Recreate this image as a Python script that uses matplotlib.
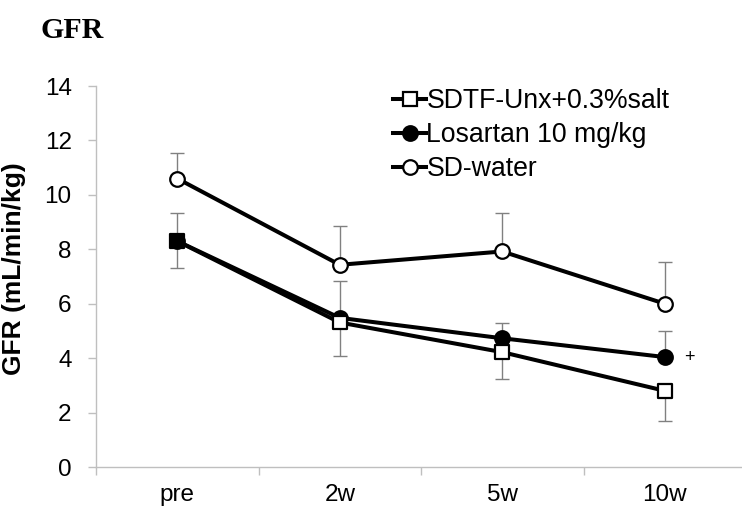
import matplotlib
matplotlib.use("Agg")
import matplotlib.pyplot as plt
from matplotlib.lines import Line2D

categories = ["pre", "2w", "5w", "10w"]
sdtf = [8.3, 5.31, 4.22, 2.8]
sdtf_err_low = [1.0, 1.23, 0.98, 1.1]
losartan = [8.3, 5.48, 4.73, 4.04]
losartan_err_up = [1.03, 1.35, 0.55, 0.95]
sdwater = [10.6, 7.43, 7.92, 6.0]
sdwater_err_up = [0.93, 1.44, 1.41, 1.52]
sdtf_face = ["black", "white", "white", "white"]
yticks = [0, 2, 4, 6, 8, 10, 12, 14]

W, H = 742, 515
fig = plt.figure(figsize=(W / 100, H / 100), dpi=100)
ax = fig.add_axes([96 / W, 1 - 467 / H, 650 / W, 381 / H])

x = list(range(len(categories)))
ecol = "#808080"
lw = 2.9
ms = 10.5
mew = 1.6

# error bars
ax.errorbar(x, sdwater, yerr=[[0] * 4, sdwater_err_up], fmt="none", ecolor=ecol,
            elinewidth=1.0, capsize=5, capthick=1.0, zorder=1)
ax.errorbar(x, losartan, yerr=[[0] * 4, losartan_err_up], fmt="none", ecolor=ecol,
            elinewidth=1.0, capsize=5, capthick=1.0, zorder=1)
ax.errorbar(x, sdtf, yerr=[sdtf_err_low, [0] * 4], fmt="none", ecolor=ecol,
            elinewidth=1.0, capsize=5, capthick=1.0, zorder=1)

# lines
ax.plot(x, sdwater, color="black", lw=lw, marker="o", ms=ms, mfc="white",
        mec="black", mew=mew, zorder=3)
ax.plot(x, losartan, color="black", lw=lw, marker="o", ms=ms, mfc="black",
        mec="black", mew=mew, zorder=3)
ax.plot(x, sdtf, color="black", lw=lw, zorder=4)
ax.scatter(x, sdtf, s=(ms - 0.5) ** 2, marker="s", facecolors=sdtf_face,
           edgecolors="black", linewidths=mew, zorder=5)

ax.annotate("+", xy=(3, losartan[3]), xytext=(14, 0), textcoords="offset points",
            ha="left", va="center", fontsize=13, family="Liberation Sans")

ax.set_xlim(-0.5, 3.5)
ax.set_ylim(0, 14)
ax.set_yticks(yticks)
ax.set_xticks(x)
ax.set_xticklabels(categories)
ax.set_xticks([-0.5, 0.5, 1.5, 2.5, 3.5], minor=True)

for s in ["top", "right"]:
    ax.spines[s].set_visible(False)
for s in ["left", "bottom"]:
    ax.spines[s].set_color("#bfbfbf")
    ax.spines[s].set_linewidth(1.0)

ax.tick_params(axis="y", which="major", length=5.5, width=1.0, color="#bfbfbf",
               pad=12, labelsize=17.5)
ax.tick_params(axis="x", which="major", length=0, pad=12, labelsize=17.5)
ax.tick_params(axis="x", which="minor", length=5.5, width=1.0, color="#bfbfbf")
for lab in ax.get_xticklabels() + ax.get_yticklabels():
    lab.set_family("Liberation Sans")

ax.set_ylabel("GFR (mL/min/kg)", family="Liberation Sans", weight="bold",
              fontsize=19)
ax.yaxis.set_label_coords(-0.108, 0.52)

fig.text(40 / W, 1 - 38 / H, "GFR", family="Liberation Serif", weight="bold",
         fontsize=21.5, ha="left", va="baseline")

handles = [
    Line2D([], [], color="black", lw=lw, marker="s", ms=ms - 1, mfc="white",
           mec="black", mew=mew),
    Line2D([], [], color="black", lw=lw, marker="o", ms=ms, mfc="black",
           mec="black", mew=mew),
    Line2D([], [], color="black", lw=lw, marker="o", ms=ms, mfc="white",
           mec="black", mew=mew),
]
labels = ["SDTF-Unx+0.3%salt", "Losartan 10 mg/kg", "SD-water"]
leg = fig.legend(handles, labels, loc="upper left",
                 bbox_to_anchor=(393 / W, 1 - 88 / H), frameon=False,
                 prop={"family": "Liberation Sans", "size": 19.2},
                 handlelength=1.25, handletextpad=0.0, borderpad=0,
                 borderaxespad=0, labelspacing=0.30)

fig.savefig("out.png", dpi=100)
